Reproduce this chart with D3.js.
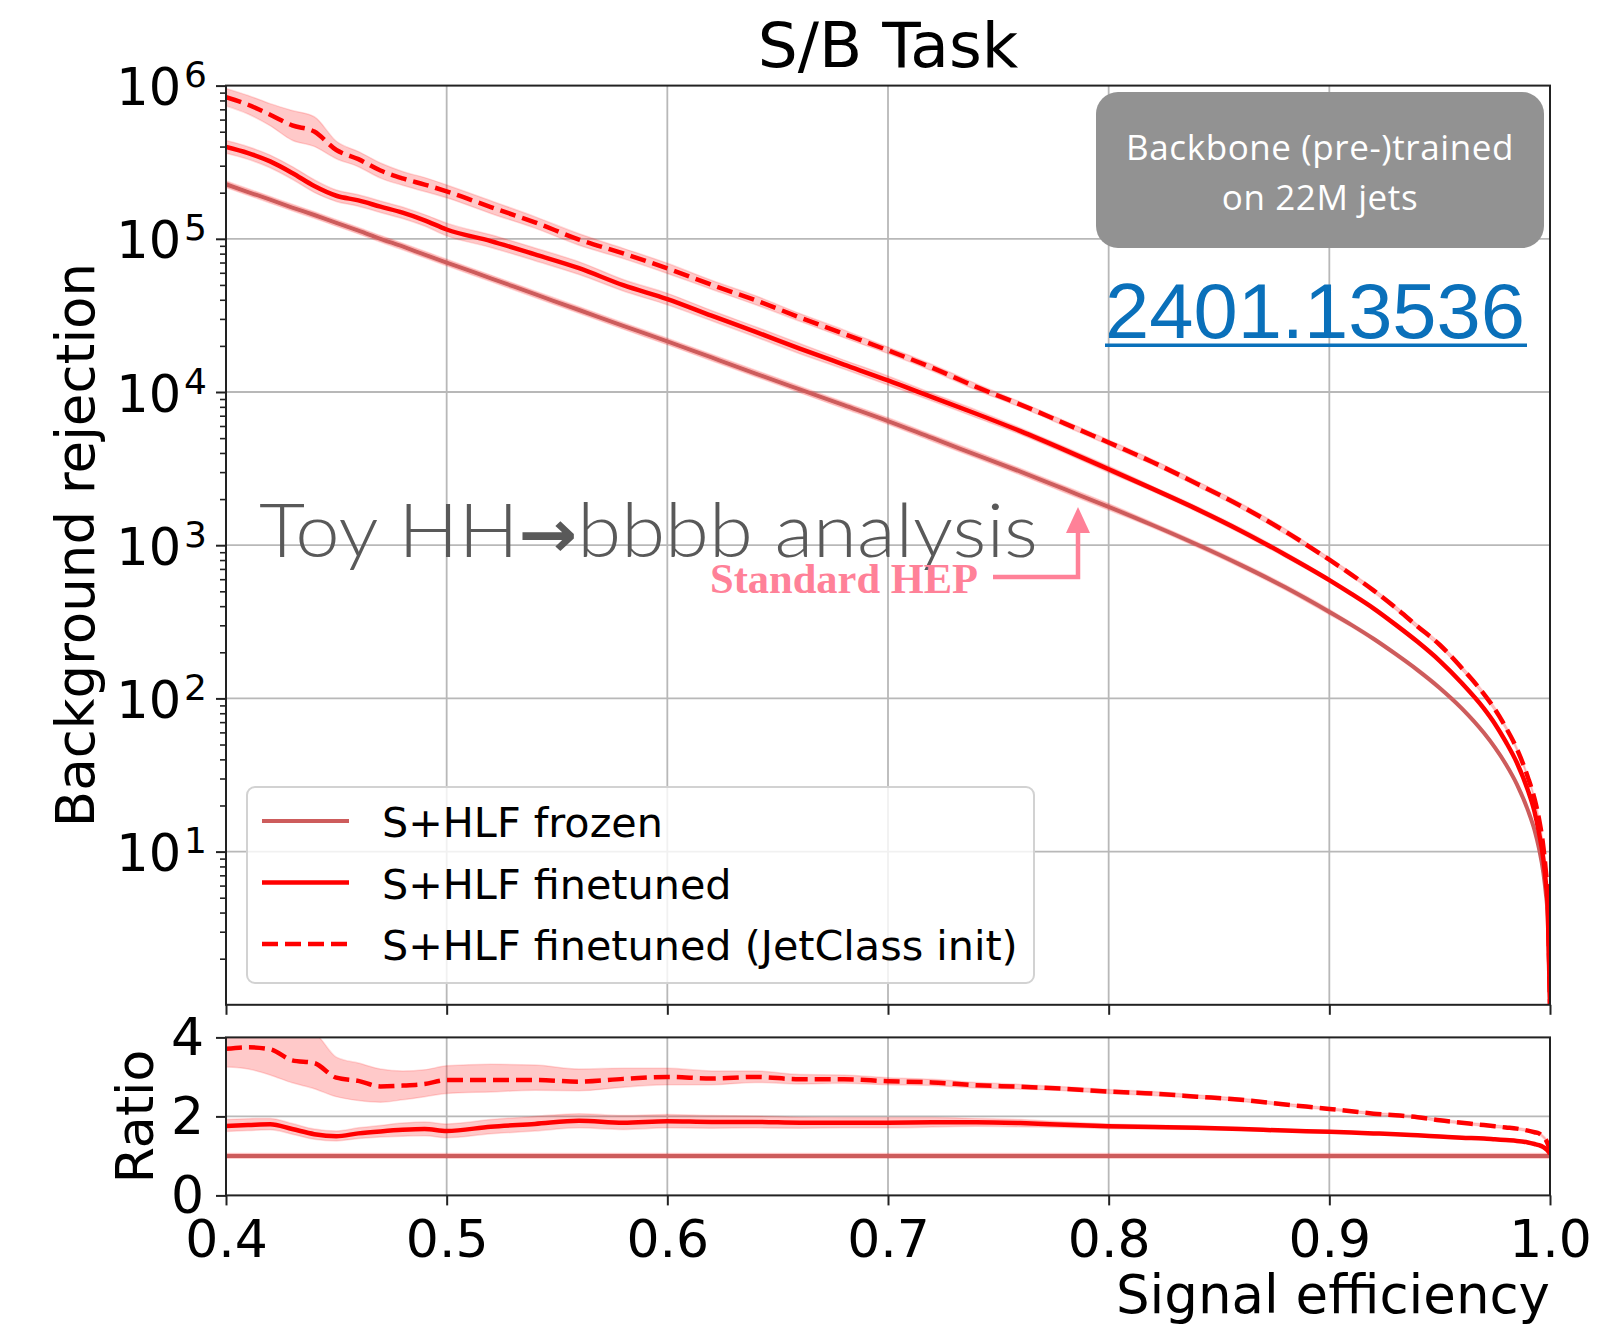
<!DOCTYPE html>
<html>
<head>
<meta charset="utf-8">
<script src="https://cdn.jsdelivr.net/npm/d3@7"></script>
<style>
  body { margin: 0; background: #fff; }
  svg { display: block; }
</style>
</head>
<body>
<svg id="chart" width="1598" height="1329"></svg>
<script>
// Signal efficiency grid shared by every curve
const effGrid = [0.40,0.41,0.42,0.43,0.44,0.45,0.46,0.47,0.48,0.49,0.50,0.52,0.54,0.56,0.58,0.60,0.62,0.64,0.66,0.68,0.70,0.72,0.74,0.76,0.78,0.80,0.82,0.84,0.86,0.88,0.90,0.91,0.92,0.93,0.94,0.95,0.96,0.97,0.975,0.98,0.985,0.99,0.993,0.995,0.997,0.998,0.999,1.0];

// Background rejection (1 / background efficiency)
const frozenRej = [2.27e5,2.02e5,1.80e5,1.60e5,1.43e5,1.27e5,1.13e5,1.00e5,8.91e4,7.89e4,7.00e4,5.52e4,4.35e4,3.43e4,2.70e4,2.14e4,1.68e4,1.32e4,1.04e4,8.20e3,6.46e3,5.01e3,3.89e3,3.02e3,2.32e3,1.78e3,1.35e3,1.01e3,741,531,367,302,245,195,153,117,86.1,59.6,47.9,37.2,27.5,18.6,13.8,10.5,7.24,5.50,3.63,1];
const finetunedRej = [3.98e5,3.63e5,3.20e5,2.69e5,2.21e5,1.91e5,1.78e5,1.62e5,1.48e5,1.32e5,1.15e5,9.66e4,7.91e4,6.43e4,4.98e4,4.04e4,3.15e4,2.47e4,1.92e4,1.51e4,1.19e4,9.25e3,7.21e3,5.55e3,4.19e3,3.13e3,2.33e3,1.72e3,1.24e3,867,592,481,387,303,234,176,126,86.1,68.4,52.0,38.0,25.1,18.2,13.3,8.91,6.53,4.17,1];
const jetclassRej = [8.41e5,7.50e5,6.46e5,5.50e5,5.01e5,3.80e5,3.31e5,2.79e5,2.48e5,2.26e5,2.04e5,1.61e5,1.28e5,9.89e4,8.02e4,6.41e4,5.01e4,3.97e4,3.07e4,2.40e4,1.87e4,1.44e4,1.08e4,8.28e3,6.24e3,4.68e3,3.48e3,2.52e3,1.80e3,1.23e3,804,643,507,391,295,224,158,107,85.1,64.6,46.8,30.5,22.1,16.4,10.7,7.76,4.79,1];

// Multiplicative spread of the uncertainty bands (value * s, value / s)
const frozenSpread = [1.05,1.05,1.05,1.05,1.05,1.05,1.05,1.05,1.05,1.05,1.05,1.05,1.05,1.05,1.05,1.05,1.05,1.05,1.05,1.05,1.05,1.05,1.05,1.05,1.05,1.05,1.04,1.04,1.04,1.04,1.04,1.03,1.03,1.03,1.03,1.03,1.03,1.03,1.03,1.03,1.03,1.03,1.03,1.03,1.03,1.03,1.03,1.0];
const finetunedSpread = [1.10,1.10,1.10,1.10,1.10,1.09,1.09,1.09,1.09,1.09,1.10,1.10,1.10,1.10,1.09,1.09,1.08,1.08,1.08,1.07,1.07,1.06,1.06,1.05,1.05,1.05,1.04,1.04,1.04,1.04,1.03,1.03,1.03,1.03,1.03,1.03,1.03,1.03,1.03,1.03,1.03,1.03,1.03,1.03,1.03,1.03,1.03,1.0];
const jetclassSpread = [1.14,1.15,1.18,1.25,1.25,1.14,1.12,1.12,1.11,1.11,1.10,1.10,1.09,1.09,1.08,1.08,1.07,1.07,1.06,1.06,1.05,1.05,1.05,1.04,1.04,1.04,1.04,1.04,1.04,1.04,1.03,1.03,1.03,1.03,1.03,1.03,1.03,1.03,1.03,1.03,1.03,1.03,1.03,1.03,1.03,1.03,1.03,1.0];

// Ratio to the frozen model, with band edges
const ratioFinetuned = [1.76,1.78,1.80,1.68,1.55,1.50,1.57,1.62,1.66,1.68,1.63,1.74,1.81,1.89,1.84,1.88,1.86,1.86,1.84,1.84,1.84,1.85,1.85,1.83,1.79,1.75,1.73,1.71,1.68,1.64,1.61,1.59,1.57,1.55,1.52,1.49,1.46,1.44,1.42,1.40,1.38,1.34,1.30,1.27,1.22,1.18,1.13,1.05];
const ratioFinetunedLo = [1.62,1.64,1.66,1.55,1.42,1.38,1.44,1.48,1.50,1.51,1.46,1.56,1.63,1.71,1.67,1.71,1.70,1.71,1.70,1.71,1.71,1.73,1.75,1.74,1.72,1.69,1.68,1.67,1.64,1.61,1.58,1.56,1.54,1.52,1.49,1.46,1.43,1.41,1.39,1.37,1.35,1.31,1.27,1.24,1.19,1.15,1.10,1.02];
const ratioFinetunedHi = [1.92,1.94,1.95,1.82,1.68,1.63,1.71,1.77,1.83,1.86,1.81,1.92,2.00,2.07,2.02,2.05,2.02,2.01,1.98,1.97,1.97,1.97,1.95,1.92,1.86,1.81,1.78,1.75,1.72,1.67,1.64,1.62,1.60,1.58,1.55,1.52,1.49,1.47,1.45,1.43,1.41,1.37,1.33,1.30,1.25,1.21,1.16,1.08];
const ratioJetclass = [3.71,3.75,3.70,3.42,3.35,2.98,2.90,2.76,2.78,2.82,2.92,2.92,2.92,2.88,2.95,3.00,2.96,3.00,2.94,2.94,2.89,2.86,2.79,2.75,2.70,2.63,2.58,2.50,2.42,2.30,2.19,2.13,2.07,2.03,1.98,1.90,1.84,1.78,1.75,1.72,1.69,1.64,1.60,1.57,1.48,1.42,1.30,1.10];
const ratioJetclassLo = [3.25,3.20,3.05,2.85,2.70,2.50,2.40,2.36,2.42,2.50,2.58,2.62,2.66,2.65,2.74,2.80,2.80,2.86,2.82,2.84,2.80,2.78,2.72,2.69,2.65,2.58,2.53,2.46,2.38,2.27,2.16,2.10,2.04,2.00,1.95,1.87,1.81,1.75,1.72,1.69,1.66,1.61,1.57,1.54,1.45,1.39,1.27,1.07];
const ratioJetclassHi = [4.15,4.25,4.30,4.20,4.10,3.50,3.35,3.20,3.15,3.18,3.28,3.32,3.30,3.20,3.22,3.22,3.15,3.15,3.06,3.05,2.98,2.94,2.86,2.81,2.75,2.68,2.63,2.54,2.46,2.33,2.22,2.16,2.10,2.06,2.01,1.93,1.87,1.81,1.78,1.75,1.72,1.67,1.63,1.60,1.51,1.45,1.33,1.13];
const ratioFrozenSpread = 0.06;

// Tick values and labels
const xTicks = [0.4,0.5,0.6,0.7,0.8,0.9,1.0];
const yDecades = [1,2,3,4,5,6];
const ratioTicks = [0,2,4];
const legendLabels = ["S+HLF frozen","S+HLF finetuned","S+HLF finetuned (JetClass init)"];

const COL_FROZEN = "#cd5c5c";
const COL_RED = "#ff0000";
const BAND_FILL = "rgba(255,0,0,0.21)";
const BAND_EDGE = "rgba(255,0,0,0.14)";
const GRID = "#b8b8b8";
const AXIS = "#222";
const FONT = "'DejaVu Sans', sans-serif";

const svg = d3.select("#chart");
const L = 226, R = 1550, T = 85.6, B = 1004.8, RT = 1037.4, RB = 1195.4;

const x = d3.scaleLinear().domain([0.4, 1.0]).range([L, R]);
const y = d3.scaleLog().domain([1, 1e6]).range([B, T]);
const yr = d3.scaleLinear().domain([0, 4]).range([RB, RT]);

const defs = svg.append("defs");
defs.append("clipPath").attr("id", "clipMain").append("rect").attr("x", L).attr("y", T).attr("width", R - L).attr("height", B - T);
defs.append("clipPath").attr("id", "clipRatio").append("rect").attr("x", L).attr("y", RT).attr("width", R - L).attr("height", RB - RT);

// ---------- grid ----------
const grid = svg.append("g").attr("stroke", GRID).attr("stroke-width", 1.8);
xTicks.slice(1, -1).forEach(v => {
  grid.append("line").attr("x1", x(v)).attr("x2", x(v)).attr("y1", T).attr("y2", B);
  grid.append("line").attr("x1", x(v)).attr("x2", x(v)).attr("y1", RT).attr("y2", RB);
});
yDecades.slice(0, -1).forEach(e => {
  grid.append("line").attr("x1", L).attr("x2", R).attr("y1", y(Math.pow(10, e))).attr("y2", y(Math.pow(10, e)));
});
grid.append("line").attr("x1", L).attr("x2", R).attr("y1", yr(2)).attr("y2", yr(2));

// ---------- main panel ----------
const rows = (vals, spread) => effGrid.map((e, i) => ({ e, v: vals[i], lo: vals[i] / spread[i], hi: vals[i] * spread[i] }));
const frozenRows = rows(frozenRej, frozenSpread);
const finetunedRows = rows(finetunedRej, finetunedSpread);
const jetclassRows = rows(jetclassRej, jetclassSpread);

const mainG = svg.append("g").attr("clip-path", "url(#clipMain)");
const bandMain = d3.area().x(d => x(d.e)).y0(d => y(Math.max(d.lo, 1))).y1(d => y(d.hi)).curve(d3.curveMonotoneX);
const lineMain = d3.line().x(d => x(d.e)).y(d => y(d.v)).curve(d3.curveMonotoneX);

[frozenRows, finetunedRows, jetclassRows].forEach(rs => {
  mainG.append("path").datum(rs).attr("d", bandMain).attr("fill", BAND_FILL).attr("stroke", BAND_EDGE).attr("stroke-width", 1.5);
});
mainG.append("path").datum(frozenRows).attr("d", lineMain).attr("fill", "none").attr("stroke", COL_FROZEN).attr("stroke-width", 4);
mainG.append("path").datum(finetunedRows).attr("d", lineMain).attr("fill", "none").attr("stroke", COL_RED).attr("stroke-width", 4.5);
mainG.append("path").datum(jetclassRows).attr("d", lineMain).attr("fill", "none").attr("stroke", COL_RED).attr("stroke-width", 4.5).attr("stroke-dasharray", "16,7");

// ---------- ratio panel ----------
const ratioG = svg.append("g").attr("clip-path", "url(#clipRatio)");
const bandR = d3.area().x(d => x(d.e)).y0(d => yr(d.lo)).y1(d => yr(d.hi)).curve(d3.curveMonotoneX);
const lineR = d3.line().x(d => x(d.e)).y(d => yr(d.v)).curve(d3.curveMonotoneX);
const frozenRatioRows = effGrid.map(e => ({ e, v: 1, lo: 1 - ratioFrozenSpread, hi: 1 + ratioFrozenSpread }));
const finetunedRatioRows = effGrid.map((e, i) => ({ e, v: ratioFinetuned[i], lo: ratioFinetunedLo[i], hi: ratioFinetunedHi[i] }));
const jetclassRatioRows = effGrid.map((e, i) => ({ e, v: ratioJetclass[i], lo: ratioJetclassLo[i], hi: ratioJetclassHi[i] }));
[frozenRatioRows, finetunedRatioRows, jetclassRatioRows].forEach(rs => {
  ratioG.append("path").datum(rs).attr("d", bandR).attr("fill", BAND_FILL).attr("stroke", BAND_EDGE).attr("stroke-width", 1.5);
});
ratioG.append("path").datum(frozenRatioRows).attr("d", lineR).attr("fill", "none").attr("stroke", COL_FROZEN).attr("stroke-width", 4);
ratioG.append("path").datum(finetunedRatioRows).attr("d", lineR).attr("fill", "none").attr("stroke", COL_RED).attr("stroke-width", 4.5);
ratioG.append("path").datum(jetclassRatioRows).attr("d", lineR).attr("fill", "none").attr("stroke", COL_RED).attr("stroke-width", 4.5).attr("stroke-dasharray", "16,7");

// ---------- axes ----------
function styleAxis(g) {
  g.select(".domain").remove();
  g.selectAll(".tick line").attr("stroke", AXIS).attr("stroke-width", 2);
  g.selectAll(".tick text").attr("fill", "#000").attr("font-family", FONT).attr("font-size", 52);
}

// main panel: x ticks without labels
svg.append("g").attr("transform", `translate(0,${B})`)
  .call(d3.axisBottom(x).tickValues(xTicks).tickSize(10).tickFormat(""))
  .call(styleAxis);

// main panel: log y, decades plus minor ticks
const minorVals = [];
for (let e = 0; e < 6; e++) for (let m = 2; m <= 9; m++) minorVals.push(m * Math.pow(10, e));
svg.append("g").attr("transform", `translate(${L},0)`)
  .call(d3.axisLeft(y).tickValues(minorVals).tickSize(6).tickFormat(""))
  .call(styleAxis)
  .selectAll(".tick line").attr("stroke-width", 1.6);

const yAxisG = svg.append("g").attr("transform", `translate(${L},0)`)
  .call(d3.axisLeft(y).tickValues(yDecades.map(e => Math.pow(10, e))).tickSize(10).tickFormat(""))
  .call(styleAxis);
yAxisG.selectAll(".tick").each(function (d) {
  const t = d3.select(this).append("text")
    .attr("x", -19).attr("y", 19)
    .attr("text-anchor", "end").attr("fill", "#000")
    .attr("font-family", FONT).attr("font-size", 51);
  t.append("tspan").text("10");
  t.append("tspan").attr("dx", 3).attr("dy", -18).attr("font-size", 36).text(Math.round(Math.log10(d)));
});

// ratio panel axes
svg.append("g").attr("transform", `translate(0,${RB})`)
  .call(d3.axisBottom(x).tickValues(xTicks).tickSize(10).tickPadding(15).tickFormat(d3.format(".1f")))
  .call(styleAxis);
svg.append("g").attr("transform", `translate(${L},0)`)
  .call(d3.axisLeft(yr).tickValues(ratioTicks).tickSize(10).tickPadding(12).tickFormat(d3.format("d")))
  .call(styleAxis);

// spines
[[T, B], [RT, RB]].forEach(([t, b]) => {
  svg.append("rect").attr("x", L).attr("y", t).attr("width", R - L).attr("height", b - t)
    .attr("fill", "none").attr("stroke", AXIS).attr("stroke-width", 2);
});

// ---------- labels ----------
svg.append("text").attr("x", (L + R) / 2).attr("y", 67).attr("text-anchor", "middle")
  .attr("font-family", FONT).attr("font-size", 63).text("S/B Task");
svg.append("text").attr("transform", `translate(94,${(263 + 827) / 2}) rotate(-90)`).attr("text-anchor", "middle")
  .attr("font-family", FONT).attr("font-size", 53).text("Background rejection");
svg.append("text").attr("transform", `translate(153,${(RT + RB) / 2}) rotate(-90)`).attr("text-anchor", "middle")
  .attr("font-family", FONT).attr("font-size", 52).text("Ratio");
svg.append("text").attr("x", R).attr("y", 1313).attr("text-anchor", "end")
  .attr("font-family", FONT).attr("font-size", 53).text("Signal efficiency");

// ---------- legend ----------
const lg = svg.append("g");
lg.append("rect").attr("x", 247).attr("y", 787).attr("width", 787).attr("height", 196).attr("rx", 8)
  .attr("fill", "rgba(255,255,255,0.8)").attr("stroke", "#d2d2d2").attr("stroke-width", 2);
const legendStyles = [
  { c: COL_FROZEN, w: 4, dash: null },
  { c: COL_RED, w: 4.5, dash: null },
  { c: COL_RED, w: 4.5, dash: "16,7" }
];
legendLabels.forEach((lab, i) => {
  const cy = 821 + i * 61.5;
  lg.append("line").attr("x1", 262).attr("x2", 349).attr("y1", cy).attr("y2", cy)
    .attr("stroke", legendStyles[i].c).attr("stroke-width", legendStyles[i].w)
    .attr("stroke-dasharray", legendStyles[i].dash);
  lg.append("text").attr("x", 382).attr("y", cy + 16).attr("font-family", FONT).attr("font-size", 41.3).text(lab);
});

// ---------- annotations ----------
const ann = svg.append("g");
ann.append("rect").attr("x", 1096).attr("y", 92).attr("width", 448).attr("height", 156).attr("rx", 22)
  .attr("fill", "#929292");
ann.append("text").attr("x", 1320).attr("y", 160).attr("text-anchor", "middle").attr("fill", "#fff")
  .attr("font-family", "'Open Sans', sans-serif").attr("font-size", 35).attr("letter-spacing", 0.6).text("Backbone (pre-)trained");
ann.append("text").attr("x", 1320).attr("y", 210).attr("text-anchor", "middle").attr("fill", "#fff")
  .attr("font-family", "'Open Sans', sans-serif").attr("font-size", 35).attr("letter-spacing", 0.6).text("on 22M jets");

ann.append("text").attr("x", 1105).attr("y", 338).attr("fill", "#0a70ba")
  .attr("font-family", "'Liberation Sans', Arial, sans-serif").attr("font-size", 78)
  .attr("textLength", 420).attr("lengthAdjust", "spacingAndGlyphs").text("2401.13536");
ann.append("rect").attr("x", 1105).attr("y", 343.5).attr("width", 422).attr("height", 3.5).attr("fill", "#0a70ba");

const toy = ann.append("text").attr("x", 259).attr("y", 557).attr("fill", "#595959")
  .attr("font-family", "Lato, 'Liberation Sans', sans-serif").attr("font-weight", 300).attr("font-size", 75)
  .attr("textLength", 779).attr("lengthAdjust", "spacingAndGlyphs");
toy.append("tspan").text("Toy HH");
toy.append("tspan").attr("font-family", "'DejaVu Sans', sans-serif").attr("font-weight", "bold").attr("font-size", 66).text("\u2192");
toy.append("tspan").text("bbbb analysis");

const PINK = "#ff8198";
ann.append("text").attr("x", 710).attr("y", 593).attr("fill", PINK)
  .attr("font-family", "'Liberation Serif', serif").attr("font-weight", "bold").attr("font-size", 42)
  .attr("textLength", 268).attr("lengthAdjust", "spacingAndGlyphs").text("Standard HEP");
ann.append("path").attr("d", "M993,577 H1078 V530").attr("fill", "none").attr("stroke", PINK).attr("stroke-width", 4.5);
ann.append("path").attr("d", "M1066,533 L1090,533 L1078,507 Z").attr("fill", PINK);
</script>
</body>
</html>
